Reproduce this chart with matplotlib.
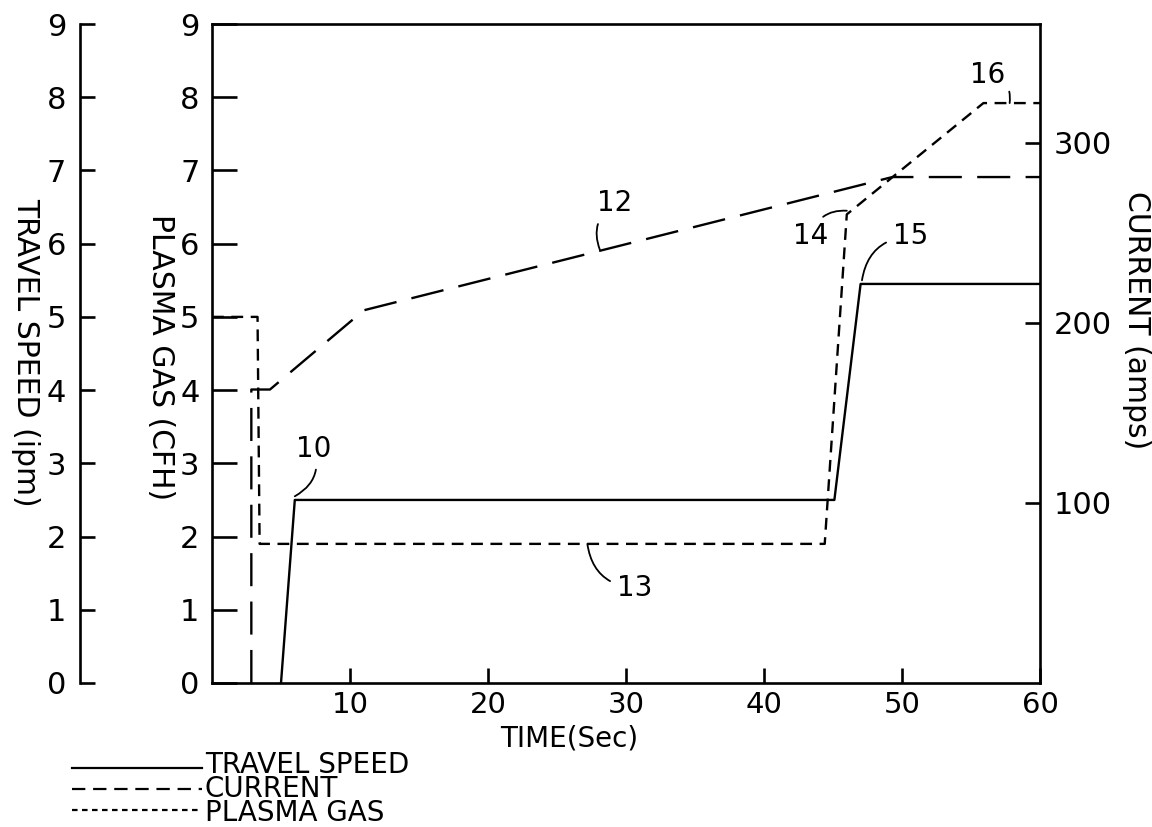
import numpy as np
import matplotlib.pyplot as plt
import matplotlib

# values (time in seconds)
speed_t = [5.0, 6.0, 45.1, 47.0, 60.0]
speed = [0.0, 2.5, 2.5, 5.45, 5.45]            # ipm

current_t = [2.85, 2.85, 4.2, 11.0, 49.3, 60.0]
current = [0, 163, 163, 207, 281, 281]          # amps

gas_t = [0.0, 3.3, 3.45, 44.4, 46.0, 55.9, 60.0]
gas = [5.0, 5.0, 1.9, 1.9, 6.4, 7.92, 7.92]     # CFH

gas_ticks = [0, 1, 2, 3, 4, 5, 6, 7, 8, 9]
time_ticks = [10, 20, 30, 40, 50, 60]
current_ticks = [100, 200, 300]

# reference numerals: label, text pos, point on curve
refs = [('10', (7.4, 3.2), (6.0, 2.55), -0.4),
        ('12', (29.2, 6.55), (28.1, 5.92), 0.4),
        ('13', (30.6, 1.3), (27.2, 1.9), -0.4),
        ('14', (43.4, 6.1), (46.0, 6.45), -0.4),
        ('15', (50.6, 6.1), (47.1, 5.5), 0.4),
        ('16', (56.2, 8.3), (57.8, 7.92), -0.5)]

W, H = 1152, 827
fig = plt.figure(figsize=(W / 100, H / 100), dpi=100)
plt.rcParams['font.family'] = 'DejaVu Sans'

def box(x0, y0, x1, y1):
    return [x0 / W, 1 - y1 / H, (x1 - x0) / W, (y1 - y0) / H]

lw = 1.7
long_dash = (0, (14, 6.5))
short_dash = (0, (5, 3.2))
fs = 22

# main (plasma gas) axes
ax = fig.add_axes(box(212, 24, 1040, 683))
ax.set_xlim(0, 60)
ax.set_ylim(0, 9)
for s in ax.spines.values():
    s.set_linewidth(1.9)
ax.set_yticks(gas_ticks)
ax.set_xticks(time_ticks)
ax.tick_params(axis='y', direction='in', length=18, width=1.9, labelsize=fs, pad=9)
ax.tick_params(axis='x', direction='in', length=11, width=1.9, labelsize=21, pad=6)
ax.plot(speed_t, speed, color='black', linewidth=lw, linestyle='-')
ax.plot(gas_t, gas, color='black', linewidth=lw, linestyle=short_dash)

# current on the right
ax2 = ax.twinx()
ax2.set_ylim(0, 366)
ax2.set_yticks(current_ticks)
ax2.tick_params(axis='y', direction='in', length=11, width=1.9, labelsize=fs, pad=10)
ax2.plot(current_t, current, color='black', linewidth=lw, linestyle=long_dash)
for s in ax2.spines.values():
    s.set_visible(False)

# travel speed scale on the far left
ax3 = fig.add_axes(box(80, 24, 100, 683))
ax3.set_ylim(0, 9)
ax3.set_yticks(gas_ticks)
ax3.set_xticks([])
for k in ['top', 'right', 'bottom']:
    ax3.spines[k].set_visible(False)
ax3.spines['left'].set_linewidth(1.9)
ax3.patch.set_visible(False)
ax3.tick_params(axis='y', direction='in', length=11, width=1.9, labelsize=fs, pad=10)

# reference numerals
for lab, txt, pt, rad in refs:
    ax.annotate(lab, xy=pt, xytext=txt, fontsize=20, ha='center', va='center',
                arrowprops=dict(arrowstyle='-', color='black', lw=1.3,
                                shrinkA=3, shrinkB=0,
                                connectionstyle='arc3,rad=%s' % rad))

# axis titles
fig.text(26 / W, 1 - 352 / H, 'TRAVEL SPEED (ipm)', rotation=270, fontsize=21.5,
         ha='center', va='center')
fig.text(160 / W, 1 - 357 / H, 'PLASMA GAS (CFH)', rotation=270, fontsize=21.5,
         ha='center', va='center')
fig.text(1137 / W, 1 - 320 / H, 'CURRENT (amps)', rotation=270, fontsize=21.5,
         ha='center', va='center')
fig.text(569 / W, 1 - 739 / H, 'TIME(Sec)', fontsize=20, ha='center', va='center')

# hand-drawn style legend
leg = fig.add_axes(box(60, 750, 460, 827))
leg.set_xlim(0, 400)
leg.set_ylim(77, 0)
leg.axis('off')
names = ['TRAVEL SPEED', 'CURRENT', 'PLASMA GAS']
styles = ['-', (0, (6, 3.5)), (0, (2.5, 2))]
for i, st in enumerate(styles):
    yy = 18 + 21 * i
    leg.plot([12, 142], [yy, yy], color='black', linewidth=1.6, linestyle=st)
leg.text(145, 39, '\n'.join(names), fontsize=20, ha='left', va='center',
         linespacing=0.8)

plt.savefig('out.png', dpi=100)
plt.close()
